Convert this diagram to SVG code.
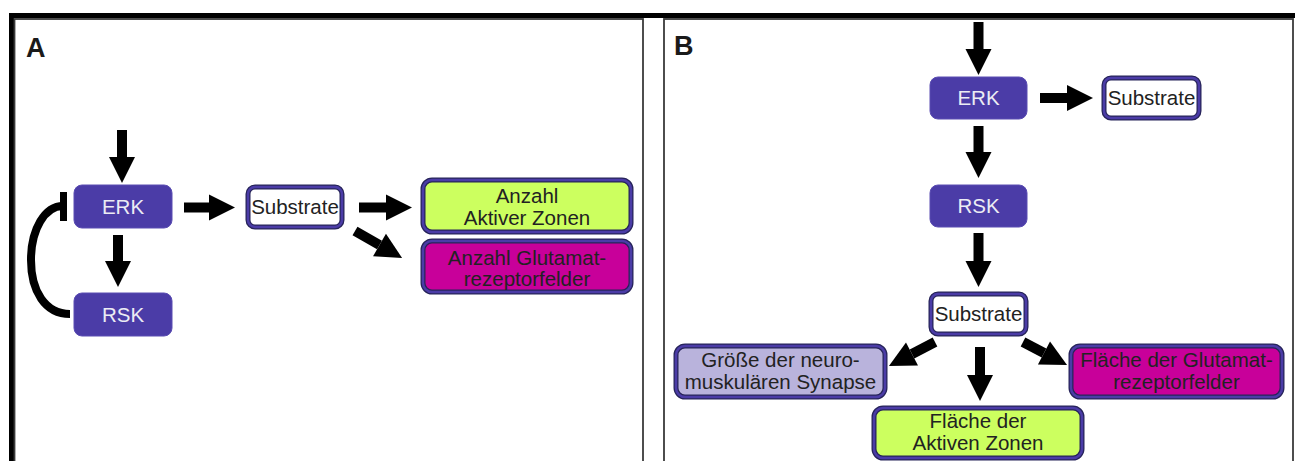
<svg xmlns="http://www.w3.org/2000/svg" width="1295" height="461" viewBox="0 0 1295 461">
<style>
.panel{fill:none;stroke:#3a3a3a;stroke-width:1.8}
.lbl{font-family:"Liberation Sans",Arial,sans-serif;font-weight:bold;font-size:27px;fill:#1a1a1a}
.k{fill:#4b3ca7;stroke:#5a4cb2;stroke-width:1}
.kt{font-family:"Liberation Sans",Arial,sans-serif;font-size:20.5px;fill:#ececf4;text-anchor:middle}
.bo{stroke:#27245a;stroke-width:5}
.bi{fill:none;stroke:#4b3ca7;stroke-width:2.5}
.t{font-family:"Liberation Sans",Arial,sans-serif;font-size:20.5px;fill:#222;text-anchor:middle}
.ar{stroke:#000;stroke-width:10;fill:none;marker-end:url(#ah)}
</style>
<defs>
<marker id="ah" markerUnits="userSpaceOnUse" markerWidth="26" markerHeight="26" refX="0" refY="13" orient="auto" overflow="visible">
<path d="M0,0 L26,13 L0,26 Z" fill="#000"/>
</marker>
</defs>
<rect width="1295" height="461" fill="#fff"/>
<g id="frame">
<path d="M11.5 461 V15.5 H1295" fill="none" stroke="#000" stroke-width="5"/>
<rect class="panel" x="14.5" y="19" width="628.5" height="460"/>
<rect class="panel" x="664" y="19" width="629" height="460"/>
<text class="lbl" x="26" y="57">A</text>
<text class="lbl" x="674" y="55">B</text>
</g>
<g id="connectors">
<line class="ar" x1="122" y1="130" x2="122" y2="157"/>
<line class="ar" x1="118" y1="235" x2="118" y2="261"/>
<line class="ar" x1="184" y1="207.5" x2="209" y2="207.5"/>
<line class="ar" x1="359" y1="207.5" x2="386" y2="207.5"/>
<line class="ar" x1="355" y1="231" x2="379.5" y2="245"/>
<path d="M70 314 C45 314 31 291 31 260 C31 229 45 206 63 206" fill="none" stroke="#000" stroke-width="8"/>
<line x1="63.5" y1="192" x2="63.5" y2="221" stroke="#000" stroke-width="7"/>
<line class="ar" x1="978.5" y1="22" x2="978.5" y2="49"/>
<line class="ar" x1="1040" y1="98" x2="1067" y2="98"/>
<line class="ar" x1="978.5" y1="126" x2="978.5" y2="152"/>
<line class="ar" x1="978.5" y1="233" x2="978.5" y2="261"/>
<line class="ar" x1="980" y1="347" x2="980" y2="375"/>
<line class="ar" x1="935" y1="342" x2="912" y2="354"/>
<line class="ar" x1="1023" y1="342" x2="1044" y2="353"/>
</g>
<g id="erkA"><rect class="k" x="74" y="185" width="98" height="43" rx="8"/><text class="kt" x="123" y="214">ERK</text></g>
<g id="rskA"><rect class="k" x="74" y="293" width="98" height="43" rx="8"/><text class="kt" x="123" y="322">RSK</text></g>
<g id="substratA"><rect class="bo" x="248" y="187" width="94" height="40" rx="7" fill="#fff"/><rect class="bi" x="248" y="187" width="94" height="40" rx="7"/><text class="t" x="295" y="214">Substrate</text></g>
<g id="aktiveZonenA"><rect class="bo" x="423" y="180" width="208" height="52" rx="9" fill="#ccff5f"/><rect class="bi" x="423" y="180" width="208" height="52" rx="9"/><text class="t" x="527" y="203">Anzahl</text><text class="t" x="527" y="225">Aktiver Zonen</text></g>
<g id="glutamatA"><rect class="bo" x="423" y="241" width="208" height="51" rx="9" fill="#c8009a"/><rect class="bi" x="423" y="241" width="208" height="51" rx="9"/><text class="t" x="527" y="265">Anzahl Glutamat-</text><text class="t" x="527" y="286">rezeptorfelder</text></g>
<g id="erkB"><rect class="k" x="930" y="77" width="97" height="42" rx="8"/><text class="kt" x="978.5" y="105">ERK</text></g>
<g id="substratB1"><rect class="bo" x="1104" y="78" width="95" height="40" rx="7" fill="#fff"/><rect class="bi" x="1104" y="78" width="95" height="40" rx="7"/><text class="t" x="1151.5" y="105">Substrate</text></g>
<g id="rskB"><rect class="k" x="930" y="185" width="97" height="42" rx="8"/><text class="kt" x="978.5" y="213">RSK</text></g>
<g id="substratB2"><rect class="bo" x="931" y="294" width="95" height="40" rx="7" fill="#fff"/><rect class="bi" x="931" y="294" width="95" height="40" rx="7"/><text class="t" x="978.5" y="321">Substrate</text></g>
<g id="synapseB"><rect class="bo" x="676" y="346" width="209" height="51" rx="9" fill="#b9b3dc"/><rect class="bi" x="676" y="346" width="209" height="51" rx="9"/><text class="t" x="780.5" y="367">Größe der neuro-</text><text class="t" x="780.5" y="389">muskulären Synapse</text></g>
<g id="aktiveZonenB"><rect class="bo" x="874" y="408" width="208" height="50" rx="9" fill="#ccff5f"/><rect class="bi" x="874" y="408" width="208" height="50" rx="9"/><text class="t" x="978" y="428">Fläche der</text><text class="t" x="978" y="450">Aktiven Zonen</text></g>
<g id="glutamatB"><rect class="bo" x="1071" y="346" width="211" height="51" rx="9" fill="#c8009a"/><rect class="bi" x="1071" y="346" width="211" height="51" rx="9"/><text class="t" x="1176.5" y="367">Fläche der Glutamat-</text><text class="t" x="1176.5" y="389">rezeptorfelder</text></g>
</svg>
